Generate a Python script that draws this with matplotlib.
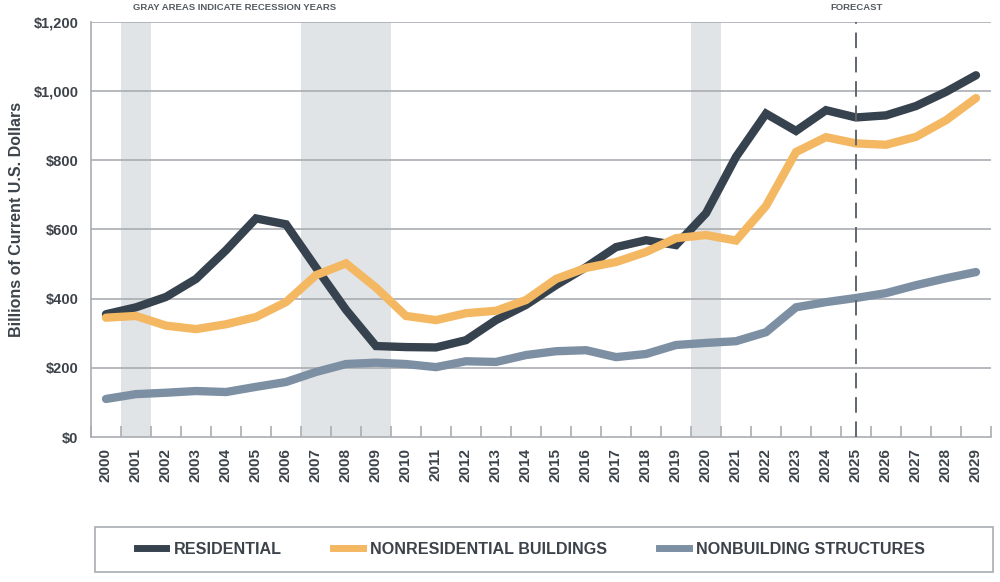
import matplotlib
matplotlib.use("Agg")
import matplotlib.pyplot as plt
from matplotlib.patches import Rectangle
from matplotlib.lines import Line2D

years = list(range(2000, 2030))
residential = [355, 375, 405, 457, 540, 632, 615, 490, 368, 263, 260, 259, 280, 338,
               382, 439, 491, 549, 569, 555, 647, 810, 935, 885, 945, 924, 930, 957, 998, 1046]
nonresidential = [345, 350, 322, 312, 326, 347, 390, 468, 502, 432, 350, 338, 358, 365,
                  396, 457, 489, 506, 535, 575, 584, 568, 668, 824, 867, 849, 845, 868, 916, 980]
nonbuilding = [110, 124, 128, 133, 130, 145, 159, 188, 211, 215, 211, 202, 219, 217,
               237, 248, 251, 231, 240, 266, 272, 277, 303, 375, 390, 402, 416, 439, 459, 477]
series_names = ["RESIDENTIAL", "NONRESIDENTIAL BUILDINGS", "NONBUILDING STRUCTURES"]
recessions = [(2001, 2001), (2007, 2009), (2020, 2020)]
forecast_year = 2025
yticks = [0, 200, 400, 600, 800, 1000, 1200]
ytick_labels = ["$0", "$200", "$400", "$600", "$800", "$1,000", "$1,200"]

colors = ["#36424e", "#f4b862", "#7d90a3"]
text_color = "#3d434a"
grid_color = "#a9adb1"

plt.rcParams['font.family'] = ['Liberation Sans', 'DejaVu Sans']

fig = plt.figure(figsize=(10, 5.82), dpi=100)
ax = fig.add_axes([0.091, 1 - 437 / 582, 0.9, (437 - 22) / 582])

for a, b in recessions:
    ax.axvspan(a - 0.5, b + 0.5, color="#e1e4e6", zorder=0, lw=0)

for y in yticks[1:]:
    ax.axhline(y, color=grid_color, lw=1.2, zorder=0.5)

for vals, c in zip([residential, nonresidential, nonbuilding], colors):
    ax.plot(years, vals, color=c, lw=6, solid_capstyle="round", solid_joinstyle="miter", zorder=3)

ax.axvline(forecast_year, color="#60666c", lw=1.4, dashes=(8, 4.5), zorder=4)

ax.set_xlim(years[0] - 0.5, years[-1] + 0.5)
ax.set_ylim(0, 1200)
ax.set_yticks(yticks)
ax.set_yticklabels(ytick_labels, fontsize=10.5, fontweight="bold", color=text_color)
ax.tick_params(axis="y", length=0, pad=9)
ax.set_xticks(years)
ax.set_xticklabels([str(y) for y in years], rotation=90, fontsize=11, fontweight="bold",
                   color=text_color)
ax.set_xticks([y - 0.5 for y in years] + [years[-1] + 0.5], minor=True)
ax.tick_params(axis="x", which="major", length=0, pad=8)
ax.tick_params(axis="x", which="minor", direction="in", length=8, width=1.2, color=grid_color)

for s in ["top", "right"]:
    ax.spines[s].set_visible(False)
for s in ["left", "bottom"]:
    ax.spines[s].set_color(grid_color)
    ax.spines[s].set_linewidth(1.2)

ax.set_ylabel("Billions of Current U.S. Dollars", fontsize=11.5, fontweight="bold",
              color=text_color)
ax.yaxis.set_label_coords((24 - 91) / 900, (437 - 219) / 415)

fig.text(235 / 1000, 1 - 8 / 582, "GRAY AREAS INDICATE RECESSION YEARS", fontsize=6.8,
         fontweight="bold", color="#555b61", ha="center", va="center")
fig.text(857 / 1000, 1 - 8 / 582, "FORECAST", fontsize=6.8,
         fontweight="bold", color="#555b61", ha="center", va="center")

# legend box
fig.patches.append(Rectangle((95 / 1000, 1 - 572 / 582), 898 / 1000, 45 / 582,
                             transform=fig.transFigure, facecolor="white",
                             edgecolor="#a9adb1", lw=1.2))
handles = [Line2D([], [], color=c, lw=5) for c in colors]
leg = fig.legend(handles, series_names, loc="center left",
                 bbox_to_anchor=(122 / 1000, 1 - 549 / 582), ncol=3, frameon=False,
                 prop={"family": ["Liberation Sans"], "weight": "bold", "size": 11.6},
                 handlelength=1.85, handletextpad=0.45, columnspacing=3.2)
for t in leg.get_texts():
    t.set_color(text_color)

fig.savefig("out.png", dpi=100)
